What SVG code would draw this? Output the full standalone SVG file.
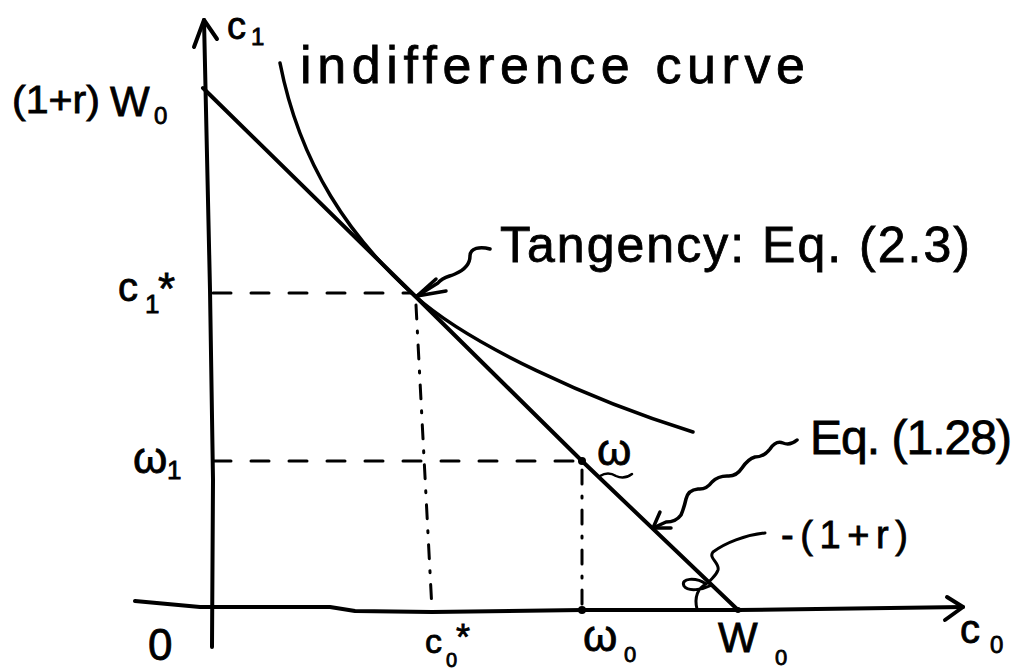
<svg xmlns="http://www.w3.org/2000/svg" width="1016" height="669" viewBox="0 0 1016 669">
<style>
.t{font-family:"Liberation Sans","DejaVu Sans",sans-serif;fill:#000;stroke:#000;stroke-width:0.8}
.ln{fill:none;stroke:#000;stroke-linecap:round;stroke-linejoin:round}
.dash{fill:none;stroke:#000;stroke-width:3;stroke-dasharray:18 20;stroke-linecap:round}
.dd{fill:none;stroke:#000;stroke-width:3;stroke-dasharray:14 12 2 12;stroke-linecap:round}
</style>
<rect width="1016" height="669" fill="#fff"/>
<g id="axes">
<path class="ln" stroke-width="4" d="M204,20 L210,290 L213,480 L212,647"/>
<path class="ln" stroke-width="4" d="M194,47 L204,20 L217,39"/>
<path class="ln" stroke-width="4" d="M135,601 L200,607 L330,607 L355,611 L432,612 L582,610 L738,610 L963,607"/>
<path class="ln" stroke-width="4" d="M947,597 L963,607 L945,620"/>
</g>
<g id="budget-line">
<path class="ln" stroke-width="4" d="M203,88 L415,296 L582,461 L738,610"/>
<circle cx="582" cy="461" r="4"/>
<circle cx="582" cy="610" r="4"/>
<circle cx="738" cy="610" r="3"/>
</g>
<g id="indifference-curve">
<path class="ln" stroke-width="3.5" d="M280,63 C300,165 350,238 415,296 C470,345 590,400 693,432"/>
</g>
<g id="guides">
<path class="dash" d="M213,293 L412,293"/>
<path class="dash" d="M213,461 L580,461"/>
<path class="dd" d="M416,305 L432,610"/>
<path class="dd" d="M582,470 L582,608"/>
</g>
<g id="connectors">
<path class="ln" stroke-width="3.5" d="M490,249 C480,246 470,248 470,256 C470,266 462,271 455,274 C448,277 443,277 438,283 L417,296"/>
<path class="ln" stroke-width="3.5" d="M436,279 L417,296 L446,291"/>
<path class="ln" stroke-width="3.5" d="M797,440 Q790,446 783,443 Q776,440 770,449 Q764,457 755,457 Q748,459 742,468 Q736,477 727,476 Q718,476 712,482 Q706,490 698,489 Q688,490 686,499 Q684,508 681,515 Q676,522 666,522 L653,528"/>
<path class="ln" stroke-width="3.5" d="M660,512 L653,528 L671,528"/>
<path class="ln" stroke-width="3" d="M765,533 C745,535 725,543 713,552 C708,558 720,563 718,570 C716,576 712,578 708,583"/>
<path class="ln" stroke-width="3" d="M697,609 C694,597 698,588 706,584 C696,577 680,578 684,586 C688,592 702,590 712,585"/>
</g>
<g id="labels">
<text class="t" x="227" y="39" font-size="38">c</text>
<text class="t" x="251" y="45" font-size="24">1</text>
<text class="t" x="12" y="113" font-size="38" textLength="88" lengthAdjust="spacingAndGlyphs">(1+r)</text>
<text class="t" x="110" y="116" font-size="42">W</text>
<text class="t" x="154" y="124" font-size="24">0</text>
<text class="t" x="300" y="83" font-size="52" textLength="505" lengthAdjust="spacing">indifference curve</text>
<text class="t" x="500" y="262" font-size="50" textLength="470" lengthAdjust="spacing">Tangency: Eq. (2.3)</text>
<text class="t" x="118" y="301" font-size="40">c</text>
<text class="t" x="145" y="313" font-size="26">1</text>
<text class="t" x="158" y="304" font-size="44">*</text>
<text class="t" x="133" y="473" font-size="44">ω</text>
<text class="t" x="167" y="479" font-size="26">1</text>
<text class="t" x="597" y="465" font-size="44">ω</text>
<path class="ln" stroke-width="2.5" d="M600,476 Q608,471 616,476 Q624,480 632,474"/>
<text class="t" x="810" y="454" font-size="48" textLength="202" lengthAdjust="spacing">Eq. (1.28)</text>
<text class="t" x="781" y="548" font-size="38" textLength="127" lengthAdjust="spacing">-(1+r)</text>
<text class="t" x="148" y="660" font-size="44">0</text>
<text class="t" x="425" y="653" font-size="34">c</text>
<text class="t" x="446" y="667" font-size="20">0</text>
<text class="t" x="456" y="650" font-size="36">*</text>
<text class="t" x="583" y="651" font-size="44">ω</text>
<text class="t" x="624" y="662" font-size="22">0</text>
<text class="t" x="718" y="652" font-size="42">W</text>
<text class="t" x="775" y="665" font-size="22">0</text>
<text class="t" x="960" y="643" font-size="40">c</text>
<text class="t" x="990" y="653" font-size="24">0</text>
</g>
</svg>
